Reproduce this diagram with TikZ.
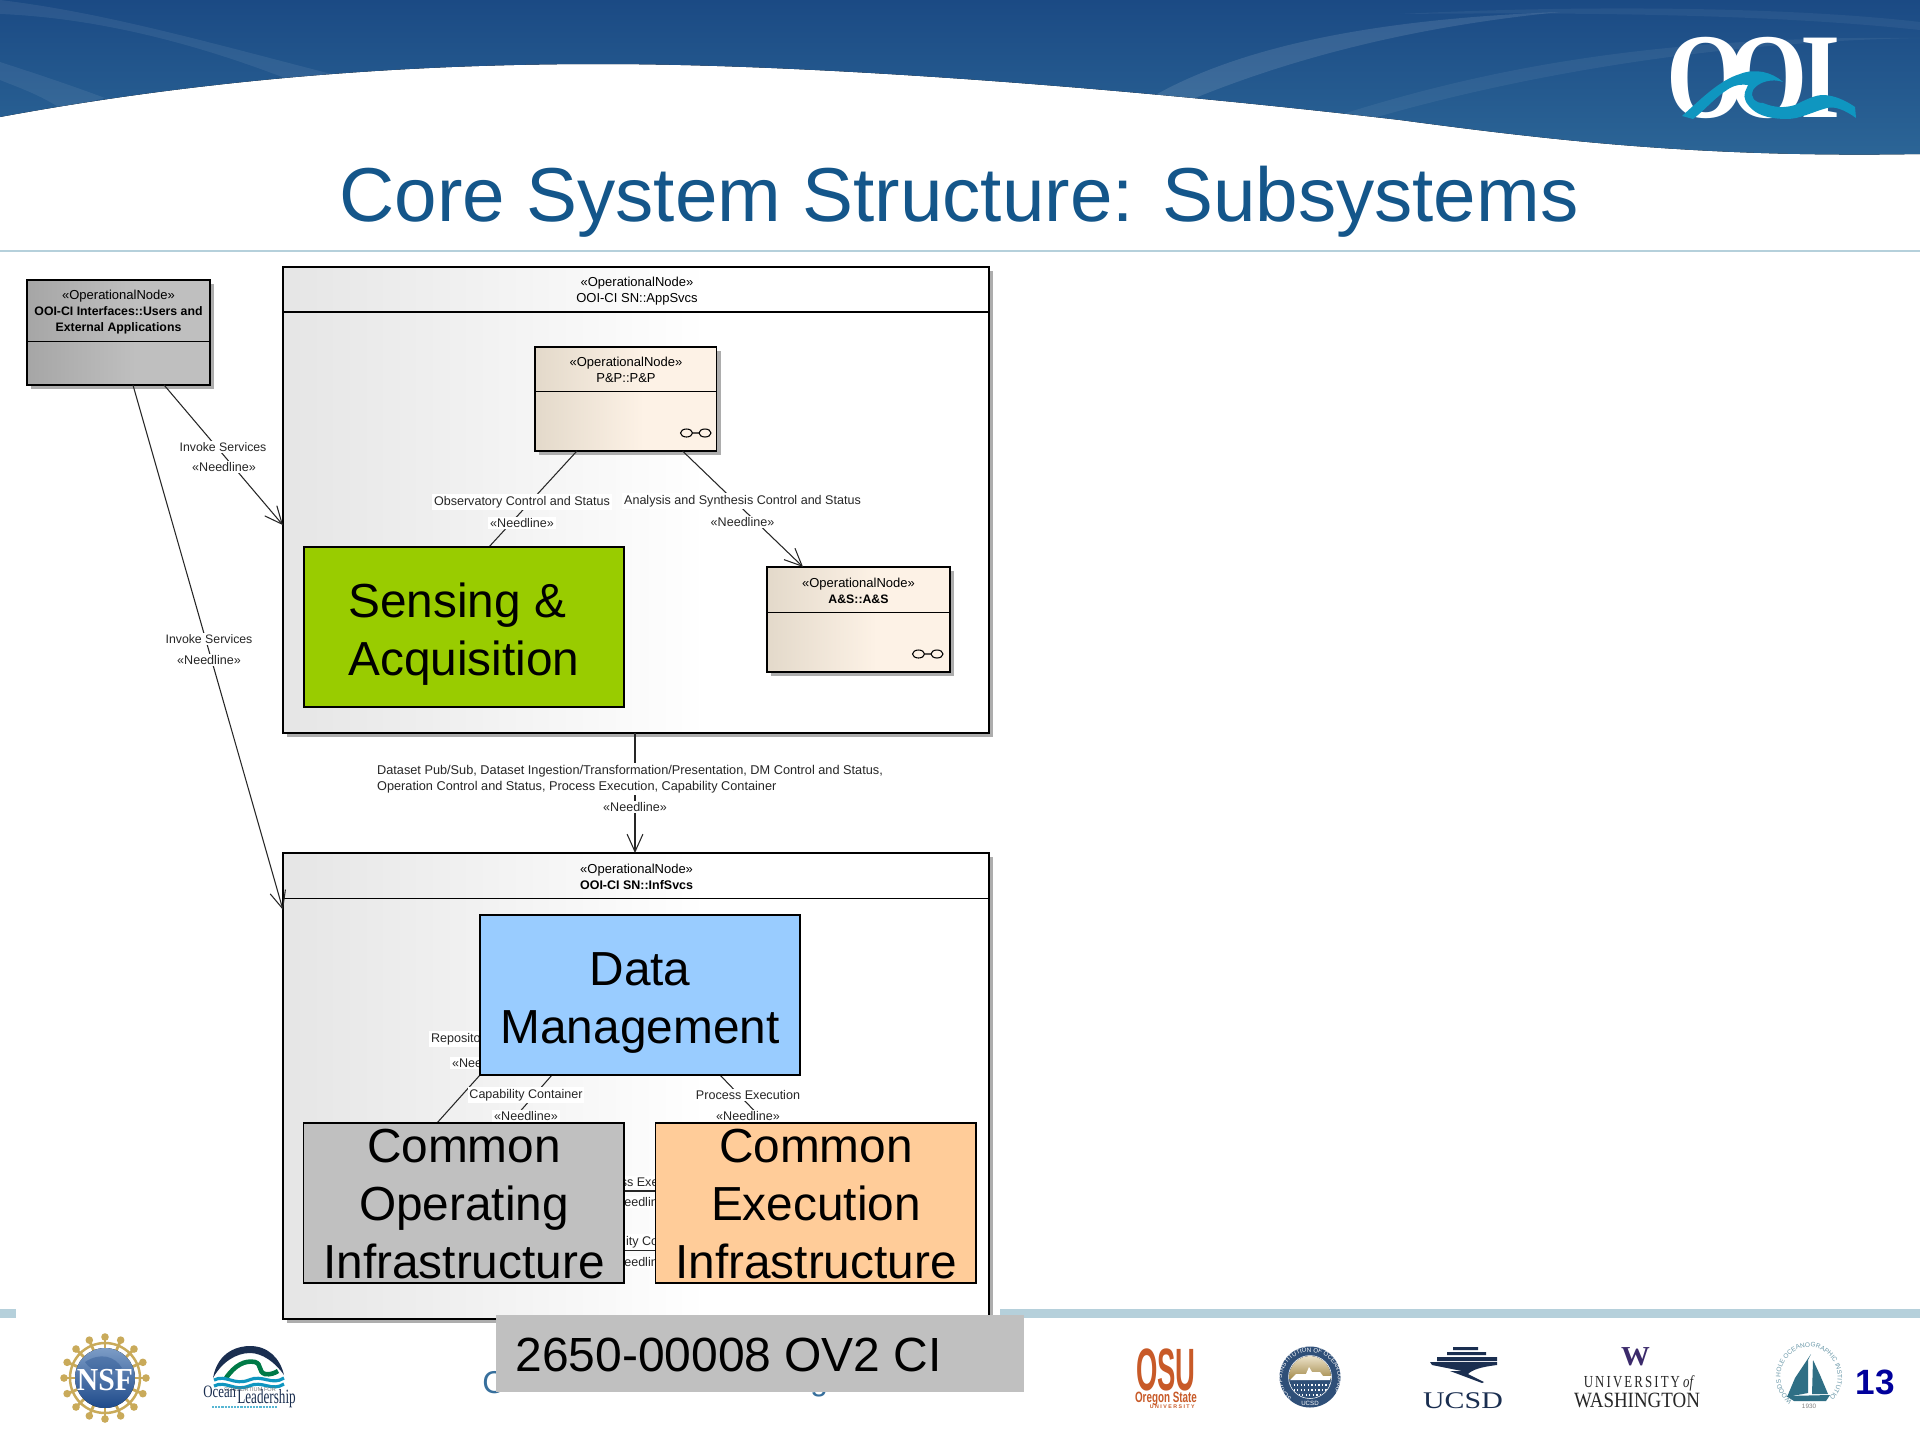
\documentclass[tikz,border=0pt]{standalone}
\usepackage{fontspec}
\usepackage{graphicx}
\setmainfont{Liberation Sans}
\newfontfamily\serifx{Liberation Serif}
\usetikzlibrary{arrows.meta,calc,shadows,decorations.text}
\definecolor{titleblue}{HTML}{14568A}
\definecolor{barblue}{HTML}{B5D0DB}
\definecolor{shadowgray}{HTML}{ADADAD}
\definecolor{saagreen}{HTML}{99CC00}
\definecolor{dmblue}{HTML}{99CCFF}
\definecolor{coigray}{HTML}{C0C0C0}
\definecolor{ceiorange}{HTML}{FFCC99}
\definecolor{logoteal}{HTML}{0F96C0}
\definecolor{gold}{HTML}{C9AA5A}
\definecolor{navy}{HTML}{1A2E50}
\definecolor{osuorange}{HTML}{C85A28}
\definecolor{sealblue}{HTML}{2F4F78}
\definecolor{uwpurple}{HTML}{3B2A6B}
\definecolor{whoiteal}{HTML}{2F6F85}
\definecolor{pagenavy}{HTML}{00009C}
\pgfdeclarehorizontalshading{appshade}{100bp}{color(0bp)=(black!10); color(25bp)=(black!10); color(55bp)=(white); color(100bp)=(white)}
\pgfdeclarehorizontalshading{usershade}{100bp}{color(0bp)=(black!35); color(25bp)=(black!35); color(55bp)=(black!25); color(100bp)=(black!25)}
\definecolor{tanl}{HTML}{E3D9CA}
\definecolor{tanr}{HTML}{FDF2E6}
\pgfdeclarehorizontalshading{tanshade}{100bp}{color(0bp)=(tanl); color(25bp)=(tanl); color(55bp)=(tanr); color(100bp)=(tanr)}
\definecolor{bant}{HTML}{1B4A84}
\definecolor{banb}{HTML}{2C6697}
\pgfdeclarelayer{umlbase}
\pgfdeclarelayer{wires}
\pgfsetlayers{umlbase,wires,main}
\tikzset{
  umlbox/.style={draw=black,line width=0.75pt,inner sep=0pt,outer sep=0pt},
  umlshadow/.style={general shadow={shadow xshift=0.08cm,shadow yshift=-0.08cm,fill=shadowgray}},
  subsys/.style={draw=black,line width=1pt,inner sep=0pt,outer sep=0pt},
  smalltxt/.style={font=\fontsize{7.4}{9}\selectfont,align=center,inner sep=0pt},
  edgelab/.style={font=\fontsize{7.15}{9}\selectfont,fill=white,inner sep=1pt,text=black!85},
  bigtxt/.style={font=\fontsize{27.2}{33}\selectfont,align=center,inner sep=0pt},
  link/.style={line width=0.6pt,draw=black!85},
  openarrow/.style={link,-{Straight Barb[length=10pt,width=9pt,line width=0.6pt]}},
  divider/.style={line width=0.55pt}
}
\newcommand{\bx}[6]{\node[#6,minimum width={(#4-#2)*0.02cm},minimum height={(#5-#3)*0.02cm}] (#1) at ({(#2+#4)/2},{(#3+#5)/2}) {};}
\begin{document}
\begin{tikzpicture}[x=0.02cm,y=-0.02cm]
\useasboundingbox (0,0) rectangle (1920,1440);
\begin{pgfonlayer}{umlbase}
\fill[white] (0,0) rectangle (1920,1440);
\fill[barblue] (0,1309) rectangle (16,1318);
\fill[barblue] (1000,1309) rectangle (1920,1318);
\bx{app}{283}{267}{989}{733}{umlbox,umlshadow,shading=appshade}
\draw[line width=0.8pt] (app.north west |- 0,312) -- (app.north east |- 0,312);
\bx{inf}{283}{853}{989}{1319}{umlbox,umlshadow,shading=appshade}
\draw[divider] (inf.north west |- 0,898) -- (inf.north east |- 0,898);
\bx{users}{27}{280}{210}{385}{umlbox,umlshadow,shading=usershade}
\draw[divider] (users.north west |- 0,341) -- (users.north east |- 0,341);
\bx{pp}{535}{347}{716.5}{451}{umlbox,umlshadow,shading=tanshade}
\draw[divider] (pp.north west |- 0,391) -- (pp.north east |- 0,391);
\bx{as}{767}{567}{950}{672}{umlbox,umlshadow,shading=tanshade}
\draw[divider] (as.north west |- 0,612) -- (as.north east |- 0,612);
\end{pgfonlayer}
% banner
\begin{scope}
\path[clip] (0,0) -- (0,117) .. controls (200,80) and (400,64) .. (600,64) .. controls (800,64) and (1100,85) .. (1400,120) .. controls (1550,140) and (1700,158) .. (1920,154) -- (1920,0) -- cycle;
\fill[top color=bant,bottom color=banb] (0,0) rectangle (1920,160);
\fill[white,opacity=.07] (0,0) .. controls (100,12) and (200,40) .. (335,75) -- (290,80) .. controls (200,45) and (100,18) .. (0,14) -- cycle;
\fill[white,opacity=.07] (0,62) .. controls (40,75) and (70,85) .. (105,98) -- (60,108) .. controls (40,95) and (20,88) .. (0,80) -- cycle;
\fill[white,opacity=.11] (1150,98) .. controls (1250,40) and (1400,18) .. (1560,12) .. controls (1420,26) and (1300,55) .. (1190,100) -- cycle;
\fill[white,opacity=.06] (1330,118) .. controls (1480,70) and (1650,35) .. (1920,38) .. controls (1700,42) and (1500,80) .. (1360,122) -- cycle;
\fill[white,opacity=.05] (1400,14) .. controls (1600,4) and (1800,8) .. (1920,22) -- (1920,30) .. controls (1780,15) and (1600,12) .. (1400,14) -- cycle;
\end{scope}
% OOI logo
\node[anchor=base,text=white,inner sep=0pt,font=\fontsize{69}{69}\selectfont\serifx\bfseries] (ooione) at (1706,117) {\scalebox{0.84}[1]{O}};
\node[anchor=base,text=white,inner sep=0pt,font=\fontsize{69}{69}\selectfont\serifx\bfseries] (ootwo) at (1768,117) {\scalebox{0.84}[1]{O}};
\node[anchor=base,text=white,inner sep=0pt,font=\fontsize{69}{69}\selectfont\serifx\bfseries] (ooithree) at (1821,117) {\scalebox{0.85}[1]{I}};
\fill[logoteal] (1682,116) .. controls (1702,98) and (1720,80) .. (1740,74) .. controls (1755,68) and (1772,72) .. (1783,82) .. controls (1772,78) and (1758,82) .. (1753,90) .. controls (1750,98) and (1755,103) .. (1763,103) .. controls (1775,108) and (1785,108) .. (1795,105) .. controls (1805,100) and (1815,95) .. (1823,95) .. controls (1835,95) and (1848,102) .. (1855,107) -- (1856,118) .. controls (1845,110) and (1835,106) .. (1827,108) .. controls (1812,112) and (1800,119) .. (1787,119) .. controls (1772,119) and (1760,116) .. (1753,110) .. controls (1746,104) and (1743,98) .. (1745,92) -- (1748,85) .. controls (1742,84) and (1735,85) .. (1730,88) .. controls (1715,97) and (1705,110) .. (1693,119) -- cycle;
% title
\node[anchor=base,inner sep=0pt,text=titleblue,font=\fontsize{43.5}{50}\selectfont] (title) at (959,221) {Core System Structure: Subsystems};
\fill[barblue] (0,250) rectangle (1920,252);
% header texts
\node[smalltxt] (usershdr) at (118.5,312) {«OperationalNode»\\{\fontsize{7}{9}\selectfont\bfseries OOI-CI Interfaces::Users and}\\{\fontsize{7}{9}\selectfont\bfseries External Applications}};
\node[smalltxt] (apphdr) at (637,291) {«OperationalNode»\\OOI-CI SN::AppSvcs};
\node[smalltxt] (pphdr) at (626,370) {«OperationalNode»\\P\&P::P\&P};
\node[smalltxt] (ashdr) at (858.5,591) {«OperationalNode»\\{\fontsize{7}{9}\selectfont\bfseries A\&S::A\&S}};
\node[smalltxt] (infhdr) at (636.6,877) {«OperationalNode»\\{\fontsize{7.1}{9}\selectfont\bfseries OOI-CI SN::InfSvcs}};
% glasses icons
\draw[line width=0.6pt] (686.5,433) ellipse (6 and 4) (705,433) ellipse (6 and 4) (692.5,433) -- (699,433);
\draw[line width=0.6pt] (918.5,654) ellipse (6 and 4) (937,654) ellipse (6 and 4) (924.5,654) -- (931,654);
% subsystem boxes
\bx{data}{480}{915}{800}{1075}{subsys,fill=dmblue}
\bx{saa}{304}{547}{624}{707}{subsys,fill=saagreen}
\bx{coi}{303.5}{1123}{624}{1283}{subsys,fill=coigray}
\bx{cei}{655.5}{1123}{976}{1283}{subsys,fill=ceiorange}
\begin{pgfonlayer}{wires}
\draw[openarrow] ($(users.south west)!0.749!(users.south east)$) -- ($(app.north west)!0.554!(app.south west)$);
\draw[openarrow] ($(users.south west)!0.579!(users.south east)$) -- ($(inf.north west)!0.122!(inf.south west)$);
\draw[link] ($(pp.south west)!0.231!(pp.south east)$) -- ($(saa.north west)!0.578!(saa.north east)$);
\draw[openarrow] ($(pp.south west)!0.813!(pp.south east)$) -- ($(as.north west)!0.197!(as.north east)$);
\draw[openarrow] ($(app.south west)!0.4986!(app.south east)$) -- ($(inf.north west)!0.4986!(inf.north east)$);
\draw[link] (data.south west) -- ($(coi.north west)!0.4165!(coi.north east)$);
\draw[link] ($(data.south west)!0.225!(data.south east)$) -- ($(coi.north west)!0.644!(coi.north east)$);
\draw[link] ($(data.south west)!0.75!(data.south east)$) -- ($(cei.north west)!0.345!(cei.north east)$);
\draw[link] ($(coi.north east)!0.425!(coi.south east)$) -- ($(cei.north west)!0.425!(cei.south west)$);
\draw[link] ($(coi.north east)!0.794!(coi.south east)$) -- ($(cei.north west)!0.794!(cei.south west)$);
\node[edgelab,font=\fontsize{7}{9}\selectfont] (lab1) at (223,447) {Invoke Services};
\node[edgelab] (lab1b) at (224,467) {«Needline»};
\node[edgelab,font=\fontsize{7}{9}\selectfont] (lab2) at (209,639) {Invoke Services};
\node[edgelab] (lab2b) at (209,660) {«Needline»};
\node[edgelab] (lab3) at (522,502) {Observatory Control and Status};
\node[edgelab] (lab3b) at (522,523) {«Needline»};
\node[edgelab] (lab4) at (742.5,501) {Analysis and Synthesis Control and Status};
\node[edgelab] (lab4b) at (742.5,522) {«Needline»};
\node[edgelab,anchor=west,align=left,font=\fontsize{7.25}{9}\selectfont] (lab5) at (375,779) {Dataset Pub/Sub, Dataset Ingestion/Transformation/Presentation, DM Control and Status,\\Operation Control and Status, Process Execution, Capability Container};
\node[edgelab] (lab5b) at (635,807) {«Needline»};
\node[edgelab,anchor=west] (lab6) at (429,1039) {Repository};
\node[edgelab,anchor=west] (lab6b) at (450,1063) {«Needline»};
\node[edgelab] (lab7) at (526,1095) {Capability Container};
\node[edgelab] (lab7b) at (526,1116) {«Needline»};
\node[edgelab] (lab8) at (748,1095) {Process Execution};
\node[edgelab] (lab8b) at (748,1116) {«Needline»};
\node[edgelab] (lab9) at (640,1182) {Process Execution};
\node[edgelab] (lab9b) at (640,1202) {«Needline»};
\node[edgelab] (lab10) at (640,1242) {Capability Container};
\node[edgelab] (lab10b) at (640,1262) {«Needline»};
\end{pgfonlayer}
\node[bigtxt,align=left] (saatxt) at (464,634) {Sensing \&\\Acquisition};
\node[bigtxt] (datatxt) at (640,1003) {Data\\Management};
\node[bigtxt] (coitxt) at (464,1204.5) {Common\\Operating\\Infrastructure};
\node[bigtxt] (ceitxt) at (816,1204.5) {Common\\Execution\\Infrastructure};
% partly hidden footer text
\node[anchor=base west,inner sep=0pt,text=titleblue!85,font=\fontsize{18}{20}\selectfont] (footc) at (482,1393) {C};
\node[anchor=base west,inner sep=0pt,text=titleblue!85,font=\fontsize{18}{20}\selectfont] (footg) at (810,1390) {g};
% doc number
\bx{docbar}{496}{1315}{1024}{1392}{fill=coigray,inner sep=0pt,outer sep=0pt}
\node[anchor=base west,inner sep=0pt,font=\fontsize{27.3}{30}\selectfont] (doctxt) at (515,1371) {2650-00008 OV2 CI};
% NSF logo
\foreach \a in {0,22.5,...,337.5}{
  \draw[gold,line width=1.6pt] ({105+28*cos(\a)},{1378+28*sin(\a)}) -- ({105+42*cos(\a)},{1378+42*sin(\a)});
  \fill[gold] ({105+41*cos(\a)},{1378+41*sin(\a)}) circle (3.8);
}
\draw[gold,line width=1.4pt] (105,1378) circle (35);
\definecolor{globetop}{HTML}{7C9CC6}
\definecolor{globebot}{HTML}{1E4A8A}
\fill[top color=globetop,bottom color=globebot] (105,1378) circle (30);
\fill[globebot,opacity=.35] (85,1362) .. controls (100,1352) and (115,1356) .. (122,1368) .. controls (110,1374) and (95,1376) .. (85,1362) -- cycle;
\node[text=white,inner sep=0pt,font=\fontsize{13.5}{14}\selectfont\serifx\bfseries] (nsf) at (105,1380) {\scalebox{1.25}[1.35]{NSF}};
% Ocean Leadership
\fill[navy] (213,1378) .. controls (218,1350) and (240,1346) .. (250,1346) .. controls (268,1346) and (280,1358) .. (284,1375) .. controls (275,1362) and (262,1353) .. (250,1353) .. controls (236,1353) and (222,1362) .. (213,1378) -- cycle;
\draw[black!30!teal!80!green,line width=2.6pt] (226,1378) .. controls (235,1365) and (245,1360) .. (255,1362) .. controls (262,1364) and (258,1372) .. (265,1374) .. controls (270,1375) and (275,1373) .. (278,1371);
\draw[logoteal,line width=1.8pt] (214,1380) .. controls (226,1374) and (234,1386) .. (249,1380) .. controls (262,1374) and (272,1386) .. (284,1378);
\draw[logoteal,line width=1.8pt] (214,1386) .. controls (226,1380) and (234,1392) .. (249,1386) .. controls (262,1380) and (272,1392) .. (284,1384);
\node[text=black!55,inner sep=0pt,font=\fontsize{3.2}{4}\selectfont] (olc) at (250,1390) {CONSORTIUM FOR};
\node[anchor=base west,text=navy,inner sep=0pt,font=\fontsize{8.6}{10}\selectfont\serifx] (ola) at (203,1397) {\scalebox{0.85}[1.15]{Ocean}};
\node[anchor=base west,text=navy,inner sep=0pt,font=\fontsize{9.6}{10}\selectfont\serifx] (olb) at (237,1403) {\scalebox{0.78}[1.2]{Leadership}};
\draw[logoteal!70,line width=1.2pt,dash pattern=on 1.2pt off 0.6pt] (212,1407) -- (277,1407);
% OSU
\node[anchor=base,text=osuorange,inner sep=0pt,font=\fontsize{34}{36}\selectfont\bfseries] (osu) at (1166,1390) {\scalebox{0.46}[1]{OSU}};
\node[anchor=base,text=osuorange,inner sep=0pt,font=\fontsize{8.5}{10}\selectfont\bfseries] (osub) at (1166,1402) {\scalebox{0.66}[1]{Oregon State}};
\node[anchor=base east,text=osuorange,inner sep=0pt,font=\fontsize{3}{4}\selectfont\bfseries] (osuc) at (1195,1408) {U N I V E R S I T Y};
% Scripps seal
\fill[sealblue] (1310,1377) circle (30.5);
\begin{scope}
\clip (1310,1377) circle (21);
\fill[top color=white!70!gold,bottom color=gold!80!black] (1285,1355) rectangle (1335,1380);
\fill[sealblue] (1285,1379) rectangle (1335,1400);
\fill[white] (1290,1380) -- (1296,1374) -- (1306,1374) -- (1309,1367) -- (1312,1372) -- (1320,1372) -- (1323,1376) -- (1331,1376) -- (1330,1380) -- cycle;
\draw[white,line width=0.8pt,dash pattern=on 0.8pt off 1.2pt] (1290,1385) -- (1330,1385) (1290,1390) -- (1330,1390) (1295,1395) -- (1325,1395);
\end{scope}
\draw[white,line width=0.3pt] (1310,1377) circle (21.5);
\path[postaction={decorate},decoration={text along path,text align=center,text={|\fontsize{3.5}{4}\selectfont\color{white}|SCRIPPS INSTITUTION OF OCEANOGRAPHY}}] (1286,1392) .. controls (1275,1375) and (1288,1352) .. (1310,1352) .. controls (1332,1352) and (1345,1375) .. (1334,1392);
\node[text=white,inner sep=0pt,font=\fontsize{3.5}{4}\selectfont] (sealtxt) at (1310,1403) {UCSD};
% UCSD
\fill[navy] (1453,1347) rectangle (1478,1350) (1447,1352) rectangle (1486,1355) (1437,1357) rectangle (1497,1361);
\fill[navy] (1430,1362) -- (1497,1362) -- (1497,1365) .. controls (1480,1367) and (1472,1370) .. (1468,1374) -- (1484,1382) -- (1482,1383) -- (1450,1371) -- (1462,1371) -- (1432,1365) -- cycle;
\node[anchor=base,text=navy,inner sep=0pt,font=\fontsize{13.6}{15}\selectfont\serifx] (ucsd) at (1463,1408) {\scalebox{1.25}[1]{UCSD}};
% UW
\node[anchor=base,text=uwpurple,inner sep=0pt,font=\fontsize{15.6}{16}\selectfont\serifx\bfseries] (uww) at (1635.5,1365) {\scalebox{1.05}[1]{W}};
\node[anchor=base,inner sep=0pt,text=black!85,font=\fontsize{9.6}{12}\selectfont\serifx] (uwa) at (1638.5,1387) {\scalebox{0.76}[1]{U\,N\,I\,V\,E\,R\,S\,I\,T\,Y {\itshape of}}};
\node[anchor=base,inner sep=0pt,text=black!85,font=\fontsize{12.4}{14}\selectfont\serifx] (uwb) at (1637,1407) {\scalebox{0.87}[1]{WASHINGTON}};
% WHOI
\fill[whoiteal] (1811,1354) -- (1795,1378) -- (1787,1397) -- (1808,1393) -- (1808,1360) -- cycle;
\fill[whoiteal] (1813,1360) -- (1820,1375) -- (1828,1394) -- (1812,1394) -- cycle;
\fill[whoiteal] (1786,1396) -- (1830,1395) -- (1826,1401) -- (1794,1401) -- cycle;
\path[postaction={decorate},decoration={text along path,text align=center,text={|\fontsize{3.7}{4}\selectfont\color{whoiteal!70}|WOODS HOLE OCEANOGRAPHIC INSTITUTION}}] (1789,1398) .. controls (1770,1378) and (1785,1347) .. (1809,1347) .. controls (1833,1347) and (1848,1378) .. (1829,1398);
\node[text=black!50,inner sep=0pt,font=\fontsize{3.6}{4}\selectfont] (whoiyr) at (1809,1406) {1930};
% page number
\node[anchor=base,inner sep=0pt,text=pagenavy,font=\fontsize{20}{22}\selectfont\bfseries] (pagenum) at (1875,1394) {13};
\end{tikzpicture}
\end{document}
